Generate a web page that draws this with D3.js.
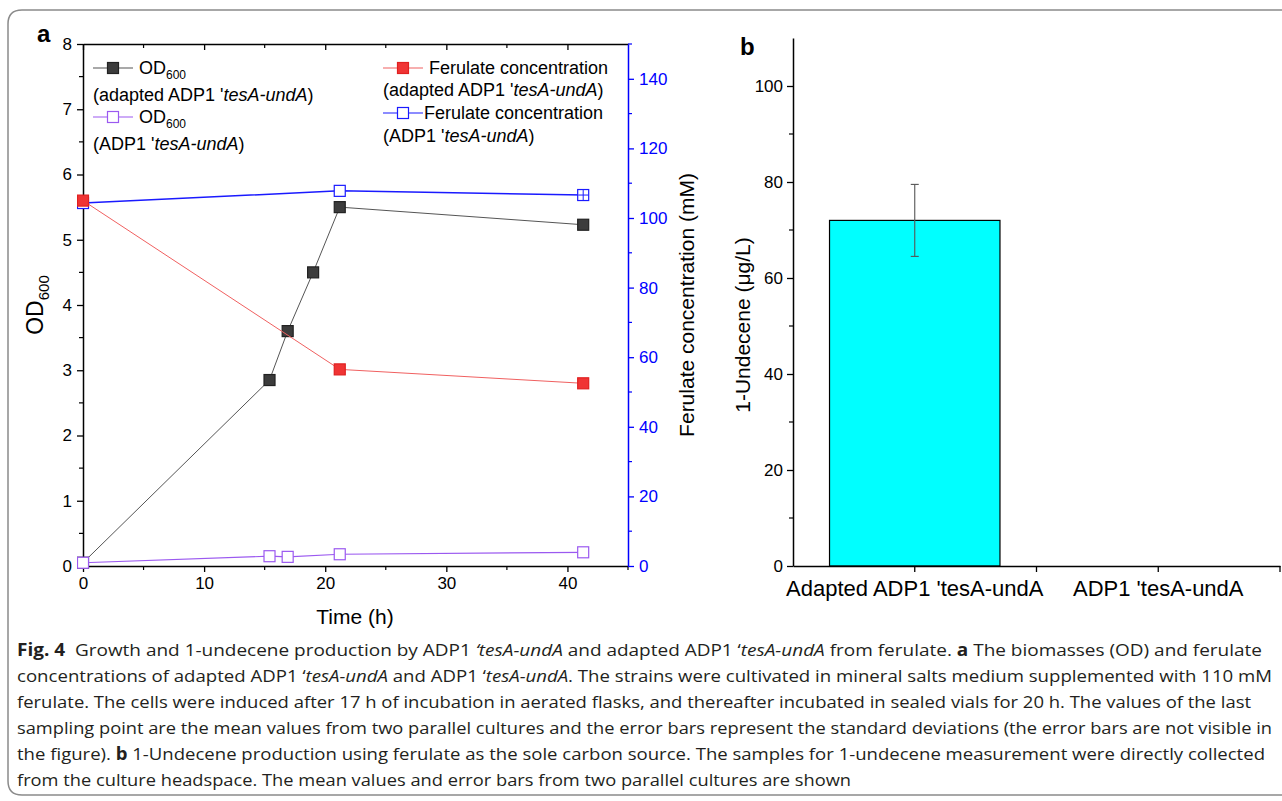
<!DOCTYPE html>
<html>
<head>
<meta charset="utf-8">
<script src="https://cdn.jsdelivr.net/npm/d3@7"></script>
<style>
  body { margin: 0; background: #fff; }
  svg text { font-family: "Liberation Sans", Arial, sans-serif; }
</style>
</head>
<body>
<div id="chart"></div>
<script>
// panel a: time course
var odTime = [0, 15.4, 16.9, 19.0, 21.2, 41.3],
    odAdapted = [0.05, 2.85, 3.6, 4.5, 5.5, 5.23];
var odTime2 = [0, 15.4, 16.9, 21.2, 41.3],
    odWild = [0.05, 0.15, 0.14, 0.18, 0.21];
var ferTime = [0, 21.2, 41.3],
    ferAdapted = [105, 56.5, 52.5],
    ferWild = [104.3, 107.8, 106.6];

// panel b: bars
var strains = ["Adapted ADP1 'tesA-undA", "ADP1 'tesA-undA"],
    undecene = [72, 0],
    undeceneErr = [7.5, 0];

var timeTicks = [0, 10, 20, 30, 40],
    odTicks = [0, 1, 2, 3, 4, 5, 6, 7, 8],
    ferTicks = [0, 20, 40, 60, 80, 100, 120, 140],
    undTicks = [0, 20, 40, 60, 80, 100];

var captionLines = [
    [["b", "Fig. 4"], ["", "  Growth and 1-undecene production by ADP1 "], ["i", "‘tesA-undA"], ["", " and adapted ADP1 ‘"], ["i", "tesA-undA"], ["", " from ferulate. "], ["b", "a"], ["", " The biomasses (OD) and ferulate"]],
    [["", "concentrations of adapted ADP1 ‘"], ["i", "tesA-undA"], ["", " and ADP1 ‘"], ["i", "tesA-undA"], ["", ". The strains were cultivated in mineral salts medium supplemented with 110 mM"]],
    [["", "ferulate. The cells were induced after 17 h of incubation in aerated flasks, and thereafter incubated in sealed vials for 20 h. The values of the last"]],
    [["", "sampling point are the mean values from two parallel cultures and the error bars represent the standard deviations (the error bars are not visible in"]],
    [["", "the figure). "], ["b", "b"], ["", " 1-Undecene production using ferulate as the sole carbon source. The samples for 1-undecene measurement were directly collected"]],
    [["", "from the culture headspace. The mean values and error bars from two parallel cultures are shown"]]
];
var captionWidths = [1245, 1255, 1234, 1255, 1248, 834];

var W = 1282, H = 801;

var svg = d3.select("#chart").append("svg")
    .attr("width", W)
    .attr("height", H);

// outer frame
svg.append("path")
    .attr("d", "M1290,10 L22,10 Q8,10 8,24 L8,781 Q8,795 22,795 L1290,795")
    .attr("fill", "none")
    .attr("stroke", "#8a8a8a")
    .attr("stroke-width", 1.5);

// ---------- panel a ----------
var x = d3.scaleLinear().domain([0, 45]).range([83, 628]),
    yL = d3.scaleLinear().domain([0, 8]).range([566, 44]),
    yR = d3.scaleLinear().domain([0, 150]).range([566, 44]);

var ga = svg.append("g");

function styleAxis(g, color, size) {
    g.select(".domain").attr("stroke", color).attr("stroke-width", 1.5);
    g.selectAll(".tick line").attr("stroke", color).attr("stroke-width", 1.3);
    g.selectAll(".tick text").attr("fill", color)
        .style("font-family", "'Liberation Sans', Arial, sans-serif")
        .style("font-size", size + "px");
}

// minor ticks
function minor(g, scale, vals, orient, len, color) {
    g.selectAll(null).data(vals).enter().append("line")
        .attr("x1", function (d) { return orient == "v" ? scale(d) : 0; })
        .attr("x2", function (d) { return orient == "v" ? scale(d) : len; })
        .attr("y1", function (d) { return orient == "v" ? 0 : scale(d); })
        .attr("y2", function (d) { return orient == "v" ? len : scale(d); })
        .attr("stroke", color)
        .attr("stroke-width", 1.2);
}

var gxb = ga.append("g").attr("transform", "translate(0,566)")
    .call(d3.axisBottom(x).tickValues(timeTicks).tickSize(6).tickPadding(5).tickSizeOuter(0));
styleAxis(gxb, "#000", 17);
minor(gxb, x, [5, 15, 25, 35, 45], "v", 4, "#000");

var gxt = ga.append("g").attr("transform", "translate(0,44)")
    .call(d3.axisTop(x).tickValues(timeTicks).tickSize(-6).tickFormat("").tickSizeOuter(0));
styleAxis(gxt, "#000", 17);
minor(gxt, x, [5, 15, 25, 35], "v", 4, "#000");

var gyl = ga.append("g").attr("transform", "translate(83,0)")
    .call(d3.axisLeft(yL).tickValues(odTicks).tickSize(6).tickPadding(5).tickSizeOuter(0));
styleAxis(gyl, "#000", 17);
minor(gyl, yL, d3.range(0.5, 8, 1), "h", -4, "#000");

var gyr = ga.append("g").attr("transform", "translate(628,0)")
    .call(d3.axisRight(yR).tickValues(ferTicks).tickSize(6).tickPadding(5).tickSizeOuter(0));
styleAxis(gyr, "#0000ff", 17);
minor(gyr, yR, d3.range(10, 151, 20), "h", 4, "#0000ff");

ga.append("text")
    .attr("x", 355).attr("y", 624)
    .attr("text-anchor", "middle")
    .style("font-size", "21px")
    .text("Time (h)");

var odLabel = ga.append("text")
    .attr("transform", "translate(43,305) rotate(-90)")
    .attr("text-anchor", "middle")
    .style("font-size", "23px");
odLabel.append("tspan").text("OD");
odLabel.append("tspan").attr("dy", 6).style("font-size", "15px").text("600");

ga.append("text")
    .attr("transform", "translate(694,305) rotate(-90)")
    .attr("text-anchor", "middle")
    .style("font-size", "21px")
    .text("Ferulate concentration (mM)");

ga.append("text")
    .attr("x", 37).attr("y", 42)
    .style("font-size", "24px")
    .style("font-weight", "bold")
    .text("a");

svg.append("clipPath").attr("id", "clipA")
    .append("rect").attr("x", 77).attr("y", 38).attr("width", 560).attr("height", 534);

var plot = ga.append("g");

function series(xs, ys, yScale, lineColor, lineW, fill, stroke) {
    var pts = xs.map(function (t, i) { return [t, ys[i]]; });
    plot.append("path")
        .datum(pts)
        .attr("fill", "none")
        .attr("stroke", lineColor)
        .attr("stroke-width", lineW)
        .attr("d", d3.line().x(function (d) { return x(d[0]); }).y(function (d) { return yScale(d[1]); }));
    plot.selectAll(null).data(pts).enter().append("rect")
        .attr("x", function (d) { return x(d[0]) - 5.5; })
        .attr("y", function (d) { return yScale(d[1]) - 5.5; })
        .attr("width", 11).attr("height", 11)
        .attr("fill", fill)
        .attr("stroke", stroke)
        .attr("stroke-width", 1.2);
    return pts;
}

series(odTime, odAdapted, yL, "#555", 1, "#3c3c3c", "#222");
series(odTime2, odWild, yL, "#9b59f0", 1.2, "#fff", "#9b59f0");
series(ferTime, ferWild, yR, "#1a1aff", 1.5, "#fff", "#1a1aff");
series(ferTime, ferAdapted, yR, "#f06060", 1, "#f03434", "#e02020");

// error bar cross inside last blue marker
var lastT = ferTime[ferTime.length - 1], lastV = ferWild[ferWild.length - 1];
plot.append("line")
    .attr("x1", x(lastT)).attr("x2", x(lastT))
    .attr("y1", yR(lastV) - 5).attr("y2", yR(lastV) + 5)
    .attr("stroke", "#1a1aff").attr("stroke-width", 1);
plot.append("line")
    .attr("x1", x(lastT) - 5).attr("x2", x(lastT) + 5)
    .attr("y1", yR(lastV)).attr("y2", yR(lastV))
    .attr("stroke", "#1a1aff").attr("stroke-width", 1);

plot.attr("clip-path", "url(#clipA)");

// legend
function legendRow(lx, ly, len, mx, stroke, fill, lineColor) {
    ga.append("line")
        .attr("x1", lx).attr("x2", lx + len)
        .attr("y1", ly).attr("y2", ly)
        .attr("stroke", lineColor).attr("stroke-width", 1.2);
    ga.append("rect")
        .attr("x", mx - 5.5).attr("y", ly - 5.5)
        .attr("width", 11).attr("height", 11)
        .attr("fill", fill).attr("stroke", stroke).attr("stroke-width", 1.2);
}
function legendText(lx, ly, parts) {
    var t = ga.append("text").attr("x", lx).attr("y", ly).style("font-size", "18px");
    parts.forEach(function (p) {
        var s = t.append("tspan").text(p[1]);
        if (p[0] == "i") s.style("font-style", "italic");
        if (p[0] == "sub") s.attr("dy", 5).style("font-size", "12px");
    });
}

legendRow(93, 68, 40, 113, "#222", "#3c3c3c", "#555");
legendText(139, 74, [["", "OD"], ["sub", "600"]]);
legendText(93, 101, [["", "(adapted ADP1 '"], ["i", "tesA-undA"], ["", ")"]]);
legendRow(93, 117, 40, 113, "#9b59f0", "#fff", "#9b59f0");
legendText(139, 123, [["", "OD"], ["sub", "600"]]);
legendText(93, 150, [["", "(ADP1 '"], ["i", "tesA-undA"], ["", ")"]]);

legendRow(383, 68, 40, 403, "#e02020", "#f03434", "#f06060");
legendText(429, 74, [["", "Ferulate concentration"]]);
legendText(383, 96, [["", "(adapted ADP1 '"], ["i", "tesA-undA"], ["", ")"]]);
legendRow(383, 113, 40, 403, "#1a1aff", "#fff", "#1a1aff");
legendText(424, 119, [["", "Ferulate concentration"]]);
legendText(383, 142, [["", "(ADP1 '"], ["i", "tesA-undA"], ["", ")"]]);

// ---------- panel b ----------
var xb = d3.scaleBand().domain(strains).range([793, 1280]).padding(0),
    yb = d3.scaleLinear().domain([0, 110]).range([566, 38]);

var gb = svg.append("g");

var barW = xb.bandwidth() * 0.7;

gb.selectAll(".bar").data(strains).enter().append("rect")
    .attr("class", "bar")
    .attr("x", function (d) { return xb(d) + xb.bandwidth() / 2 - barW / 2; })
    .attr("y", function (d, i) { return yb(undecene[i]); })
    .attr("width", barW)
    .attr("height", function (d, i) { return yb(0) - yb(undecene[i]); })
    .attr("fill", "#00ffff")
    .attr("stroke", "#000")
    .attr("stroke-width", function (d, i) { return undecene[i] > 0 ? 1.2 : 0; });

strains.forEach(function (s, i) {
    if (undeceneErr[i] == 0) return;
    var cx = xb(s) + xb.bandwidth() / 2;
    gb.append("line")
        .attr("x1", cx).attr("x2", cx)
        .attr("y1", yb(undecene[i] + undeceneErr[i])).attr("y2", yb(undecene[i] - undeceneErr[i]))
        .attr("stroke", "#555").attr("stroke-width", 1.1);
    [undecene[i] + undeceneErr[i], undecene[i] - undeceneErr[i]].forEach(function (v) {
        gb.append("line")
            .attr("x1", cx - 4).attr("x2", cx + 4)
            .attr("y1", yb(v)).attr("y2", yb(v))
            .attr("stroke", "#555").attr("stroke-width", 1.1);
    });
});

var gbx = gb.append("g").attr("transform", "translate(0,566)")
    .call(d3.axisBottom(xb).tickSize(6).tickPadding(5).tickSizeOuter(0));
styleAxis(gbx, "#000", 22);
gbx.selectAll(".tick text").attr("dy", "0.85em");
// boundary ticks between categories
gbx.selectAll(null).data(strains).enter().append("line")
    .attr("x1", function (d) { return xb(d) + xb.bandwidth(); })
    .attr("x2", function (d) { return xb(d) + xb.bandwidth(); })
    .attr("y1", 0).attr("y2", 6)
    .attr("stroke", "#000").attr("stroke-width", 1.3);

var gby = gb.append("g").attr("transform", "translate(793,0)")
    .call(d3.axisLeft(yb).tickValues(undTicks).tickSize(6).tickPadding(4).tickSizeOuter(0));
styleAxis(gby, "#000", 17);
minor(gby, yb, [10, 30, 50, 70, 90], "h", -4, "#000");

gb.append("text")
    .attr("transform", "translate(750,325) rotate(-90)")
    .attr("text-anchor", "middle")
    .style("font-size", "21px")
    .text("1-Undecene (μg/L)");

gb.append("text")
    .attr("x", 740).attr("y", 55)
    .style("font-size", "24px")
    .style("font-weight", "bold")
    .text("b");

// ---------- caption ----------
var cap = svg.append("g");
captionLines.forEach(function (line, i) {
    var t = cap.append("text")
        .attr("x", 17)
        .attr("y", 656 + i * 26)
        .attr("fill", "#231f20")
        .attr("textLength", captionWidths[i])
        .attr("lengthAdjust", "spacingAndGlyphs")
        .attr("xml:space", "preserve")
        .style("font-family", "'Open Sans', 'Noto Sans', sans-serif")
        .style("font-size", "17px");
    line.forEach(function (p) {
        var s = t.append("tspan").text(p[1]);
        if (p[0] == "i") s.style("font-style", "italic");
        if (p[0] == "b") s.style("font-weight", "bold");
    });
});
</script>
</body>
</html>
